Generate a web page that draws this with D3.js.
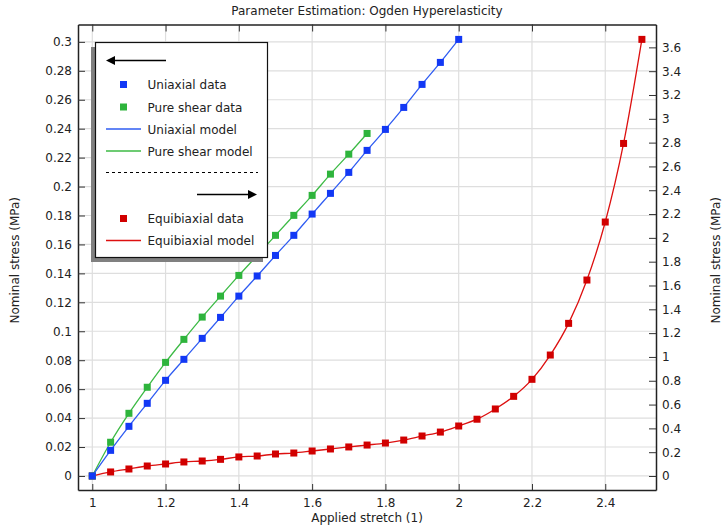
<!DOCTYPE html>
<html>
<head>
<meta charset="utf-8">
<script src="https://cdn.jsdelivr.net/npm/d3@7"></script>
<style>
  body { margin: 0; background: #fff; }
  text { font-family: "DejaVu Sans", sans-serif; font-size: 12px; fill: #222; }
</style>
</head>
<body>
<svg id="chart" width="724" height="529"></svg>
<script>
// stretch values (x) and nominal stress (MPa)
let uni_stretch = [1, 1.05, 1.1, 1.15, 1.2, 1.25, 1.3, 1.35, 1.4, 1.45, 1.5,
  1.55, 1.6, 1.65, 1.7, 1.75, 1.8, 1.85, 1.9, 1.95, 2]
let uni_stress = [0, 0.0177, 0.0343, 0.0502, 0.0661, 0.0806, 0.0951, 0.1096, 0.1243, 0.1382, 0.1524,
  0.1663, 0.181, 0.1953, 0.2098, 0.225, 0.2395, 0.2547, 0.2706, 0.2858, 0.3017]

let ps_stretch = [1, 1.05, 1.1, 1.15, 1.2, 1.25, 1.3, 1.35, 1.4, 1.45, 1.5,
  1.55, 1.6, 1.65, 1.7, 1.75]
let ps_stress = [0, 0.0233, 0.0433, 0.0613, 0.0785, 0.0944, 0.1098, 0.1243, 0.1386, 0.1524, 0.1663,
  0.1801, 0.1939, 0.2086, 0.2224, 0.2367]

let eb_stretch = [1, 1.05, 1.1, 1.15, 1.2, 1.25, 1.3, 1.35, 1.4, 1.45, 1.5,
  1.55, 1.6, 1.65, 1.7, 1.75, 1.8, 1.85, 1.9, 1.95, 2,
  2.05, 2.1, 2.15, 2.2, 2.25, 2.3, 2.35, 2.4, 2.45, 2.5]
let eb_stress = [0, 0.034, 0.059, 0.084, 0.101, 0.118, 0.126, 0.14, 0.16, 0.168, 0.185,
  0.193, 0.21, 0.227, 0.244, 0.26, 0.277, 0.302, 0.336, 0.369, 0.42,
  0.477, 0.563, 0.669, 0.812, 1.016, 1.282, 1.646, 2.133, 2.793, 3.667]

let x_ticks = [1, 1.2, 1.4, 1.6, 1.8, 2, 2.2, 2.4]
let left_ticks = d3.range(16).map(i => +(i * 0.02).toFixed(2))
let right_ticks = d3.range(19).map(i => +(i * 0.2).toFixed(1))

let title = "Parameter Estimation: Ogden Hyperelasticity"
let x_label = "Applied stretch (1)"
let y_label = "Nominal stress (MPa)"

let colors = {
  uni: "#1238f5", uni_line: "#2f5cf2",
  ps: "#2eb43c", ps_line: "#3cba45",
  eb: "#d10000", eb_line: "#dd1010"
}

let margin = {top: 24.5, right: 68, bottom: 39, left: 78}
let W = 724, H = 529

function make_scales() {
  return {
    x: d3.scaleLinear().domain([0.961, 2.5385]).range([margin.left, W - margin.right]),
    yl: d3.scaleLinear().domain([-0.0097, 0.312]).range([H - margin.bottom, margin.top]),
    yr: d3.scaleLinear().domain([-0.1175, 3.792]).range([H - margin.bottom, margin.top])
  }
}

function draw_grid(svg, s) {
  let g = svg.append("g")
  g.selectAll(".vx").data(x_ticks).enter().append("line")
    .attr("x1", d => s.x(d)).attr("x2", d => s.x(d))
    .attr("y1", margin.top).attr("y2", H - margin.bottom)
    .attr("stroke", "#dedede").attr("stroke-width", 1.2)
  g.selectAll(".hy").data(left_ticks).enter().append("line")
    .attr("x1", margin.left).attr("x2", W - margin.right)
    .attr("y1", d => s.yl(d)).attr("y2", d => s.yl(d))
    .attr("stroke", "#dedede").attr("stroke-width", 1.2)
}

function draw_series(svg, xs, ys, xscale, yscale, line_col, mark_col) {
  let pts = xs.map((x, i) => [x, ys[i]])
  let line = d3.line()
    .x(d => xscale(d[0])).y(d => yscale(d[1]))
    .curve(d3.curveMonotoneX)
  svg.append("path").attr("d", line(pts))
    .attr("fill", "none").attr("stroke", line_col).attr("stroke-width", 1.3)
  svg.append("g").selectAll("rect").data(pts).enter().append("rect")
    .attr("x", d => xscale(d[0]) - 3.5).attr("y", d => yscale(d[1]) - 3.5)
    .attr("width", 7).attr("height", 7).attr("fill", mark_col)
}

function draw_axes(svg, s) {
  let bottom = H - margin.bottom, right = W - margin.right
  let fmt = d => String(d)

  svg.append("g").attr("transform", `translate(0,${bottom})`)
    .call(d3.axisBottom(s.x).tickValues(x_ticks).tickFormat(fmt).tickSizeInner(-6).tickSizeOuter(0).tickPadding(8))
  svg.append("g").attr("transform", `translate(0,${margin.top})`)
    .call(d3.axisTop(s.x).tickValues(x_ticks).tickFormat("").tickSizeInner(-7).tickSizeOuter(0))
  svg.append("g").attr("transform", `translate(${margin.left},0)`)
    .call(d3.axisLeft(s.yl).tickValues(left_ticks).tickFormat(fmt).tickSizeInner(-7).tickSizeOuter(0).tickPadding(6))
  svg.append("g").attr("transform", `translate(${right},0)`)
    .call(d3.axisRight(s.yr).tickValues(right_ticks).tickFormat(fmt).tickSizeInner(-7).tickSizeOuter(0).tickPadding(6))

  svg.selectAll(".domain").attr("stroke", "#222").attr("stroke-width", 1.5)
  svg.selectAll(".tick line").attr("stroke", "#333")
  svg.selectAll(".tick text").style("font-family", "DejaVu Sans").style("font-size", "12px").attr("fill", "#222")
}

function draw_legend(svg) {
  let g = svg.append("g")
  let bx = 95.5, by = 42.5, bw = 172, bh = 215
  g.append("rect").attr("x", bx - 4.5).attr("y", by + 4.5).attr("width", bw).attr("height", bh).attr("fill", "#808080")
  g.append("rect").attr("x", bx).attr("y", by).attr("width", bw).attr("height", bh)
    .attr("fill", "#fff").attr("stroke", "#111").attr("stroke-width", 1.2)

  // arrow pointing left (left axis)
  g.append("line").attr("x1", 112).attr("x2", 166).attr("y1", 60.5).attr("y2", 60.5).attr("stroke", "#000").attr("stroke-width", 1.6)
  g.append("path").attr("d", "M106,60.5 L115,56 L115,65 Z").attr("fill", "#000")

  let rows = [
    {y: 84.5, label: "Uniaxial data", mark: colors.uni},
    {y: 107, label: "Pure shear data", mark: colors.ps},
    {y: 129, label: "Uniaxial model", line: colors.uni_line},
    {y: 151, label: "Pure shear model", line: colors.ps_line},
    {y: 218.5, label: "Equibiaxial data", mark: colors.eb},
    {y: 240.5, label: "Equibiaxial model", line: colors.eb_line}
  ]
  rows.forEach(r => {
    if (r.mark) {
      g.append("rect").attr("x", 120).attr("y", r.y - 3.5).attr("width", 7).attr("height", 7).attr("fill", r.mark)
    } else {
      g.append("line").attr("x1", 106).attr("x2", 141).attr("y1", r.y).attr("y2", r.y)
        .attr("stroke", r.line).attr("stroke-width", 1.3)
    }
    g.append("text").attr("x", 147.5).attr("y", r.y + 4.5).text(r.label)
  })

  g.append("line").attr("x1", 106).attr("x2", 258).attr("y1", 172.5).attr("y2", 172.5)
    .attr("stroke", "#000").attr("stroke-width", 1).attr("stroke-dasharray", "3,3")

  // arrow pointing right (right axis)
  g.append("line").attr("x1", 197).attr("x2", 250).attr("y1", 194.5).attr("y2", 194.5).attr("stroke", "#000").attr("stroke-width", 1.6)
  g.append("path").attr("d", "M257,194.5 L248,190 L248,199 Z").attr("fill", "#000")
}

function draw_labels(svg) {
  let cx = (margin.left + W - margin.right) / 2
  let cy = (margin.top + H - margin.bottom) / 2 + 3
  svg.append("text").attr("x", cx).attr("y", 15).attr("text-anchor", "middle").text(title)
  svg.append("text").attr("x", cx).attr("y", 522).attr("text-anchor", "middle").text(x_label)
  svg.append("text").attr("transform", `translate(19,${cy}) rotate(-90)`).attr("text-anchor", "middle").text(y_label)
  svg.append("text").attr("transform", `translate(720,${cy}) rotate(-90)`).attr("text-anchor", "middle").text(y_label)
}

function visualize() {
  let svg = d3.select("#chart")
  let s = make_scales()
  draw_grid(svg, s)
  draw_series(svg, eb_stretch, eb_stress, s.x, s.yr, colors.eb_line, colors.eb)
  draw_series(svg, ps_stretch, ps_stress, s.x, s.yl, colors.ps_line, colors.ps)
  draw_series(svg, uni_stretch, uni_stress, s.x, s.yl, colors.uni_line, colors.uni)
  draw_legend(svg)
  draw_axes(svg, s)
  draw_labels(svg)
}

visualize()
</script>
</body>
</html>
